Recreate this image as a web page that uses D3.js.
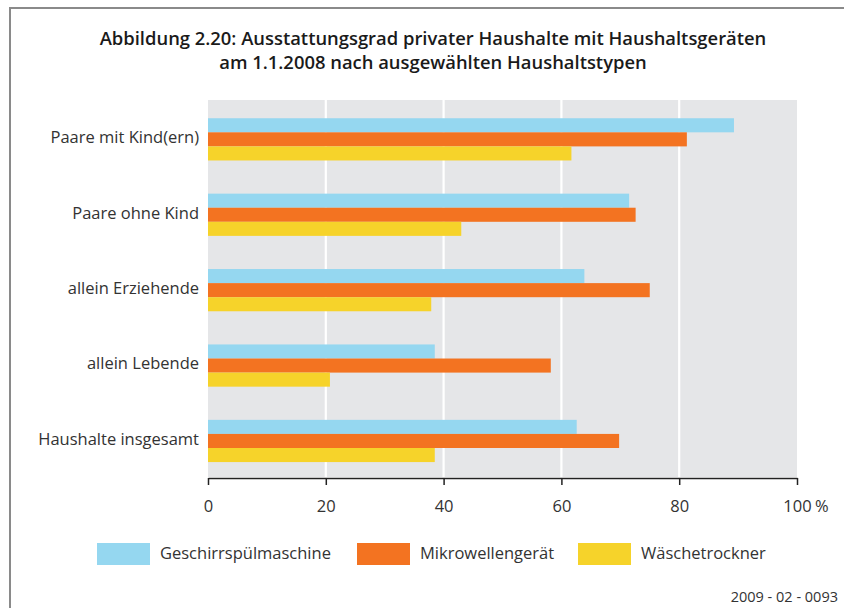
<!DOCTYPE html>
<html><head><meta charset="utf-8">
<script src="https://cdn.jsdelivr.net/npm/d3@7"></script>
<style>
body{margin:0;background:#fff;}
svg{display:block;}
text{font-family:"Open Sans","Noto Sans",sans-serif;fill:#333;}
</style></head>
<body>
<svg id="c" width="844" height="608"></svg>
<script>
const categories = ["Paare mit Kind(ern)", "Paare ohne Kind", "allein Erziehende", "allein Lebende", "Haushalte insgesamt"];
const seriesNames = ["Geschirrspülmaschine", "Mikrowellengerät", "Wäschetrockner"];
const geschirrspuel = [89.3, 71.5, 63.9, 38.5, 62.6];
const mikrowelle = [81.3, 72.6, 75.0, 58.2, 69.8];
const waeschetrockner = [61.7, 43.0, 37.9, 20.7, 38.5];
const xTicks = [0, 20, 40, 60, 80, 100];
const colors = ["#95d7f0", "#f37321", "#f6d32a"];
const titleLines = ["Abbildung 2.20: Ausstattungsgrad privater Haushalte mit Haushaltsgeräten", "am 1.1.2008 nach ausgewählten Haushaltstypen"];
const sourceNote = "2009 - 02 - 0093";

const seriesValues = [geschirrspuel, mikrowelle, waeschetrockner];
const svg = d3.select("#c");

// frame
svg.append("line").attr("x1", 10).attr("x2", 844).attr("y1", 8).attr("y2", 8).attr("stroke", "#8a8a8a").attr("stroke-width", 2);
svg.append("line").attr("x1", 10).attr("x2", 10).attr("y1", 7).attr("y2", 608).attr("stroke", "#8a8a8a").attr("stroke-width", 2);

// title
svg.append("g").selectAll("text").data(titleLines).join("text")
  .attr("x", 433).attr("y", (d, i) => 45 + i * 23.5)
  .attr("text-anchor", "middle").attr("font-size", 18.4).attr("font-weight", 600)
  .style("fill", "#1a1a1a")
  .text(d => d);

const x = d3.scaleLinear().domain([0, 100]).range([208, 797]);
const y = d3.scaleBand().domain(categories).range([100, 477]).paddingInner(0.44).paddingOuter(0.22).align(0.55);
const ySub = d3.scaleBand().domain(d3.range(seriesNames.length)).range([0, y.bandwidth()]);

// background
svg.append("rect").attr("x", x(0)).attr("y", 100).attr("width", x(100) - x(0)).attr("height", 377).attr("fill", "#e5e6e8");

// gridlines
svg.append("g").selectAll("line").data(xTicks.slice(1, -1)).join("line")
  .attr("x1", d => x(d)).attr("x2", d => x(d)).attr("y1", 100).attr("y2", 477)
  .attr("stroke", "#fff").attr("stroke-width", 2.2);

// bars
categories.forEach((c, ci) => {
  seriesValues.forEach((vals, si) => {
    svg.append("rect")
      .attr("x", x(0))
      .attr("y", y(c) + ySub(si))
      .attr("width", x(vals[ci]) - x(0))
      .attr("height", ySub.bandwidth())
      .attr("fill", colors[si]);
  });
});

// category labels
svg.append("g").selectAll("text").data(categories).join("text")
  .attr("x", 199).attr("y", d => y(d) + y.bandwidth() / 2 - 2)
  .attr("dy", "0.35em").attr("text-anchor", "end").attr("font-size", 16.5)
  .text(d => d);

// x axis
const ax = svg.append("g").attr("transform", "translate(0,478)")
  .call(d3.axisBottom(x).tickValues(xTicks).tickSize(7).tickSizeOuter(0).tickFormat(d => d === 100 ? "100 %" : d));
ax.select(".domain").attr("stroke", "#222").attr("stroke-width", 1.5);
ax.selectAll(".tick line").attr("stroke", "#222").attr("stroke-width", 1.5);
ax.selectAll(".tick text").attr("font-size", 16.5).attr("font-family", "'Open Sans','Noto Sans',sans-serif").attr("dy", "1.45em").style("fill", "#333");
ax.selectAll(".tick text").filter(d => d === 100).each(function() {
  const t = d3.select(this);
  const tmp = svg.append("text").attr("font-size", 16.5).text("100");
  const w = tmp.node().getComputedTextLength();
  tmp.remove();
  t.attr("text-anchor", "start").attr("x", -w / 2).attr("word-spacing", "-1px");
});

// legend
const legendX = [97, 357, 578];
const lg = svg.append("g").selectAll("g").data(seriesNames).join("g")
  .attr("transform", (d, i) => `translate(${legendX[i]},543)`);
lg.append("rect").attr("width", 53).attr("height", 22).attr("fill", (d, i) => colors[i]);
lg.append("text").attr("x", 63).attr("y", 10).attr("dy", "0.35em").attr("font-size", 16.5).text(d => d);

// source note
svg.append("text").attr("x", 838).attr("y", 602).attr("text-anchor", "end").attr("font-size", 14.5).text(sourceNote);
</script>
</body></html>
